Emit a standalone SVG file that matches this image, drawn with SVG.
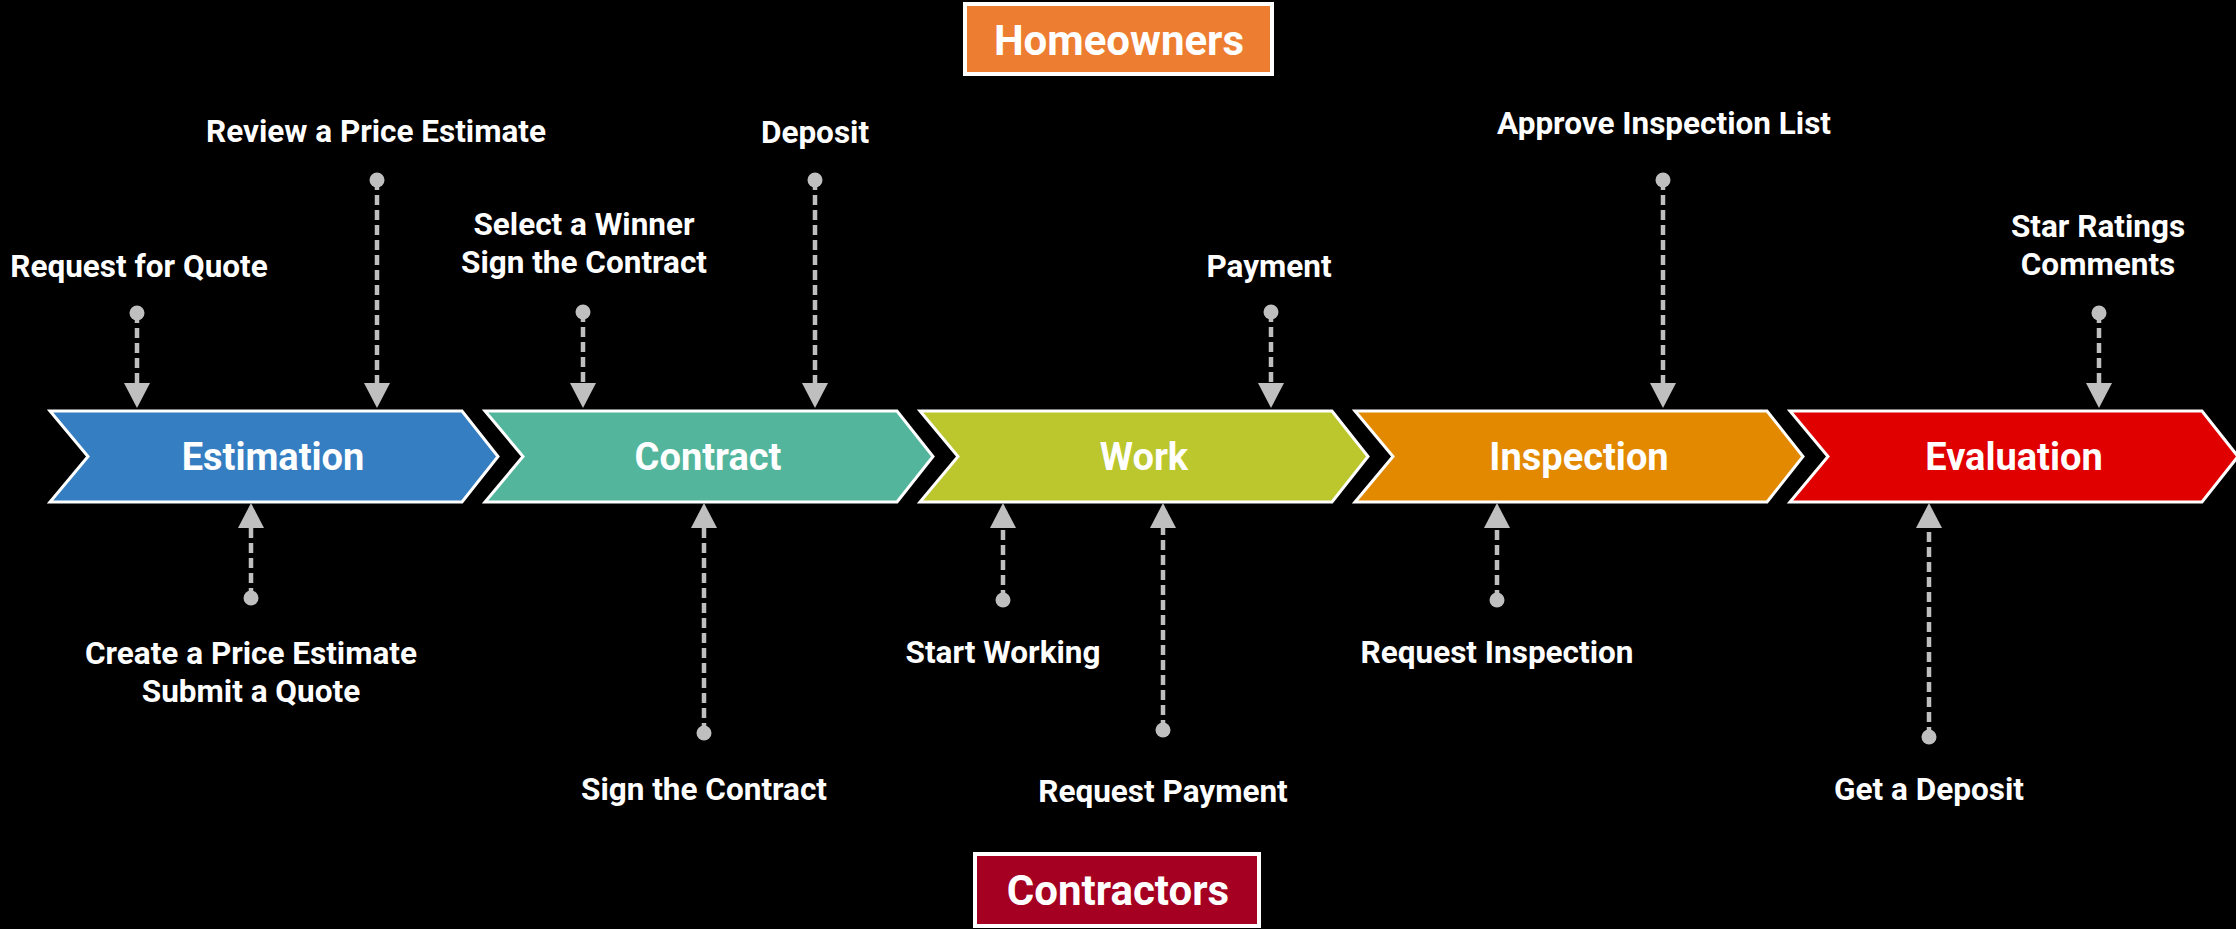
<svg xmlns="http://www.w3.org/2000/svg" width="2236" height="929" viewBox="0 0 2236 929">
<defs>
<style>
.bg{fill:#000000}
.chev{stroke:#FFFFFF;stroke-width:3;stroke-linejoin:miter}
.clab{font-family:Roboto,"Liberation Sans",sans-serif;font-weight:bold;font-size:38px;fill:#FFFFFF;text-anchor:middle}
.lab{font-family:Roboto,"Liberation Sans",sans-serif;font-weight:bold;font-size:31.5px;fill:#FFFFFF;text-anchor:middle}
.role{font-family:Roboto,"Liberation Sans",sans-serif;font-weight:bold;font-size:42px;fill:#FFFFFF;text-anchor:middle}
.conn{stroke:#BFBFBF;stroke-width:4.5;stroke-dasharray:10 5;fill:none;marker-start:url(#dot);marker-end:url(#arrow)}
</style>
<marker id="arrow" viewBox="0 0 25 26" refX="0" refY="13" markerWidth="25" markerHeight="26" markerUnits="userSpaceOnUse" orient="auto">
<path d="M0,0 L25,13 L0,26 Z" fill="#BFBFBF"/>
</marker>
<marker id="dot" viewBox="0 0 16 16" refX="8" refY="8" markerWidth="16" markerHeight="16" markerUnits="userSpaceOnUse" orient="auto">
<circle cx="8" cy="8" r="7.5" fill="#BFBFBF"/>
</marker>
</defs>
<rect class="bg" x="0" y="0" width="2236" height="929"/>

<g id="homeowners">
<rect x="965" y="4" width="307" height="70" fill="#ED7D31" stroke="#FFFFFF" stroke-width="4"/>
<text class="role" x="1119" y="55">Homeowners</text>
</g>
<g id="contractors">
<rect x="975" y="854" width="284" height="72" fill="#A50021" stroke="#FFFFFF" stroke-width="4"/>
<text class="role" x="1118" y="905">Contractors</text>
</g>

<g id="estimation">
<polygon class="chev" fill="#357EC2" points="50,411 462,411 498,456.5 462,502 50,502 88,456.5"/>
<text class="clab" x="273" y="470">Estimation</text>
</g>
<g id="contract">
<polygon class="chev" fill="#52B59C" points="485,411 897,411 933,456.5 897,502 485,502 523,456.5"/>
<text class="clab" x="708" y="470">Contract</text>
</g>
<g id="work">
<polygon class="chev" fill="#BCC62D" points="920,411 1332,411 1368,456.5 1332,502 920,502 958,456.5"/>
<text class="clab" x="1144" y="470">Work</text>
</g>
<g id="inspection">
<polygon class="chev" fill="#E28900" points="1355,411 1767,411 1803,456.5 1767,502 1355,502 1393,456.5"/>
<text class="clab" x="1579" y="470">Inspection</text>
</g>
<g id="evaluation">
<polygon class="chev" fill="#E10000" points="1790,411 2202,411 2238,456.5 2202,502 1790,502 1828,456.5"/>
<text class="clab" x="2014" y="470">Evaluation</text>
</g>

<g id="connectors">
<line class="conn" x1="137" y1="313" x2="137" y2="383"/>
<line class="conn" x1="377" y1="180" x2="377" y2="383"/>
<line class="conn" x1="583" y1="312" x2="583" y2="383"/>
<line class="conn" x1="815" y1="180" x2="815" y2="383"/>
<line class="conn" x1="1271" y1="312" x2="1271" y2="383"/>
<line class="conn" x1="1663" y1="180" x2="1663" y2="383"/>
<line class="conn" x1="2099" y1="313" x2="2099" y2="383"/>
<line class="conn" x1="251" y1="598" x2="251" y2="528"/>
<line class="conn" x1="704" y1="733" x2="704" y2="528"/>
<line class="conn" x1="1003" y1="600" x2="1003" y2="528"/>
<line class="conn" x1="1163" y1="730" x2="1163" y2="528"/>
<line class="conn" x1="1497" y1="600" x2="1497" y2="528"/>
<line class="conn" x1="1929" y1="737" x2="1929" y2="528"/>
</g>

<g id="label-request-quote"><text class="lab" x="139" y="277">Request for Quote</text></g>
<g id="label-review-estimate"><text class="lab" x="376" y="142">Review a Price Estimate</text></g>
<g id="label-select-winner"><text class="lab" x="584" y="235">Select a Winner</text><text class="lab" x="584" y="273">Sign the Contract</text></g>
<g id="label-deposit"><text class="lab" x="815" y="143">Deposit</text></g>
<g id="label-payment"><text class="lab" x="1269" y="277">Payment</text></g>
<g id="label-approve"><text class="lab" x="1664" y="134">Approve Inspection List</text></g>
<g id="label-star"><text class="lab" x="2098" y="237">Star Ratings</text><text class="lab" x="2098" y="275">Comments</text></g>
<g id="label-create-estimate"><text class="lab" x="251" y="664">Create a Price Estimate</text><text class="lab" x="251" y="702">Submit a Quote</text></g>
<g id="label-sign-contract"><text class="lab" x="704" y="800">Sign the Contract</text></g>
<g id="label-start-working"><text class="lab" x="1003" y="663">Start Working</text></g>
<g id="label-request-payment"><text class="lab" x="1163" y="802">Request Payment</text></g>
<g id="label-request-inspection"><text class="lab" x="1497" y="663">Request Inspection</text></g>
<g id="label-get-deposit"><text class="lab" x="1929" y="800">Get a Deposit</text></g>
</svg>
